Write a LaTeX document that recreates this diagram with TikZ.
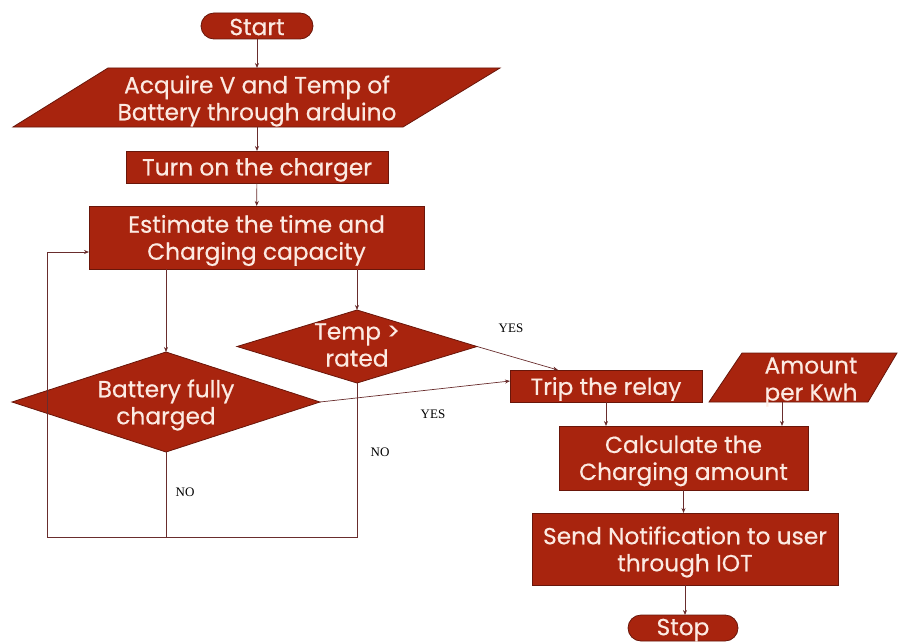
\documentclass[tikz,border=0pt]{standalone}
\usepackage{fontspec}
\setmainfont{Poppins}
\newfontfamily\boxfont[FakeBold=0.4]{Poppins}
\newfontfamily\lblfont{Liberation Serif}
\usetikzlibrary{shapes.geometric,arrows.meta}
\definecolor{boxred}{RGB}{168,36,14}
\definecolor{boxedge}{RGB}{105,22,10}
\definecolor{txtw}{RGB}{252,234,226}
\definecolor{linec}{RGB}{105,45,45}
\begin{document}
\begin{tikzpicture}[x=1pt,y=-1pt,
  shp/.style={draw=boxedge, fill=boxred, line width=0.8pt, inner sep=0pt, outer sep=0pt},
  rbox/.style={shp, rectangle},
  pill/.style={shp, rectangle, rounded corners=13pt},
  dia/.style={shp, diamond},
  txt/.style={text=txtw, align=center, inner sep=0pt, yshift=-3pt, font=\boxfont\fontsize{23.3}{27}\selectfont},
  lbl/.style={font=\lblfont\fontsize{13}{15}\selectfont, inner sep=0pt},
  conn/.style={draw=linec, line width=0.7pt},
  arr/.style={conn, -{Stealth[length=5pt,width=4pt]}}
]
\useasboundingbox (0,0) rectangle (899,642);

% parallelograms
\path[shp] (13,127) -- (108,68) -- (500,68) -- (403,127) -- cycle;
\path[shp] (709,402) -- (742,353) -- (897,353) -- (868,402) -- cycle;
\coordinate (acqtop) at (257,68);
\coordinate (acqbot) at (257,127);
\coordinate (amtbot) at (782,402);

% shapes
\node[pill, minimum width=112, minimum height=26] (start) at (257,26) {};
\node[rbox, minimum width=262, minimum height=32] (turn) at (257,167) {};
\node[rbox, minimum width=335, minimum height=63] (est) at (256.5,237.5) {};
\node[dia, minimum width=240, minimum height=73] (temp) at (357,346.5) {};
\node[dia, minimum width=308, minimum height=100] (bat) at (166,402) {};
\node[rbox, minimum width=192, minimum height=32] (trip) at (606,386) {};
\node[rbox, minimum width=249, minimum height=64] (calc) at (683.5,458) {};
\node[rbox, minimum width=306, minimum height=72] (send) at (685,549) {};
\node[pill, minimum width=110, minimum height=26] (stop) at (683,628) {};

% texts
\node[txt, yshift=2pt] (startT) at (start) {Start};
\node[txt] (acqT) at (257,98) {Acquire V and Temp of\\Battery through arduino};
\node[txt] (turnT) at (turn) {Turn on the charger};
\node[txt] (estT) at (est) {Estimate the time and\\Charging capacity};
\node[txt] (tempT) at (357,342) {Temp >\\rated};
\node[txt] (batT) at (166,402) {Battery fully\\charged};
\node[txt] (tripT) at (trip) {Trip the relay};
\node[txt] (amtT) at (811,379) {Amount\\per Kwh};
\node[txt] (calcT) at (calc) {Calculate the\\Charging amount};
\node[txt] (sendT) at (send) {Send Notification to user\\through IOT};
\node[txt, yshift=1pt] (stopT) at (stop) {Stop};

% labels
\node[lbl] (yes1) at (511,328) {YES};
\node[lbl] (yes2) at (433,414) {YES};
\node[lbl] (no1) at (380,452) {NO};
\node[lbl] (no2) at (185,492) {NO};

% connectors
\coordinate (lb) at (47,537);
\coordinate (lt) at (47,252);
\draw[arr] (start) -- (acqtop);
\draw[arr] (acqbot) -- (turn);
\draw[arr] (turn) -- (est);
\draw[arr] (est.south -| bat.north) -- (bat.north);
\draw[arr] (est.south -| temp.north) -- (temp.north);
\draw[arr] (temp.east) -- ([xshift=-48pt]trip.north);
\draw[arr] (bat.east) -- ([yshift=5pt]trip.west);
\draw[conn] (bat.south) -- (bat.south |- lb);
\draw[conn] (temp.south) -- (temp.south |- lb) -- (lb) -- (lt);
\draw[arr] (lt) -- (lt -| est.west);
\draw[arr] (trip.south) -- (trip.south |- calc.north);
\draw[arr] (amtbot) -- (amtbot |- calc.north);
\draw[arr] (calc.south) -- (calc.south |- send.north);
\draw[arr] (send.south) -- (send.south |- stop.north);
\end{tikzpicture}
\end{document}
